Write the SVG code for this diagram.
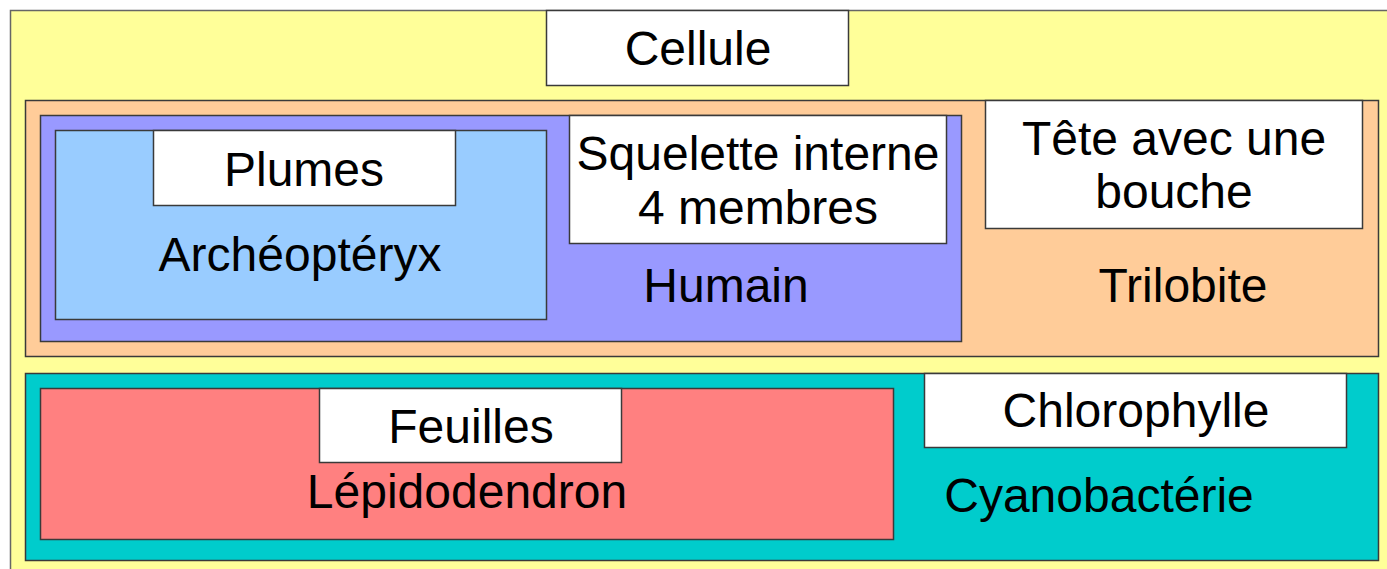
<svg xmlns="http://www.w3.org/2000/svg" width="1387" height="569" viewBox="0 0 1387 569">
<style>
rect{stroke:#3a3a3a;stroke-width:1.5}
.outer{stroke:#666}
text{font-family:"Liberation Sans",Arial,sans-serif;font-size:48px;fill:#000;text-anchor:middle}
.w{fill:#fff}
</style>
<rect width="1387" height="569" fill="#fff" style="stroke:none"/>
<g id="cellule-group">
<rect class="outer" x="10.5" y="10.5" width="1390" height="570" fill="#ffff99"/>
</g>
<g id="cellule">
<rect class="w" x="546.5" y="10.5" width="302" height="75"/>
<text x="698" y="65">Cellule</text>
</g>
<g id="trilobite">
<rect x="25.5" y="100.5" width="1353" height="256" fill="#ffcc99"/>
<text x="1183" y="302">Trilobite</text>
</g>
<g id="tete">
<rect class="w" x="985.5" y="100.5" width="377" height="128"/>
<text x="1174" y="155">Tête avec une</text>
<text x="1174" y="208">bouche</text>
</g>
<g id="humain">
<rect x="40.5" y="115.5" width="921" height="226" fill="#9999ff"/>
<text x="726" y="302">Humain</text>
</g>
<g id="squelette">
<rect class="w" x="569.5" y="115.5" width="377" height="128"/>
<text x="758" y="170">Squelette interne</text>
<text x="758" y="224">4 membres</text>
</g>
<g id="archeopteryx">
<rect x="55.5" y="130.5" width="491" height="189" fill="#99ccff"/>
<text x="300" y="271">Archéoptéryx</text>
</g>
<g id="plumes">
<rect class="w" x="153.5" y="130.5" width="302" height="75"/>
<text x="304" y="186">Plumes</text>
</g>
<g id="cyanobacterie">
<rect x="25.5" y="373.5" width="1353" height="187" fill="#00cccc"/>
<text x="1099" y="512">Cyanobactérie</text>
</g>
<g id="chlorophylle">
<rect class="w" x="924.5" y="373.5" width="422" height="74"/>
<text x="1136" y="427">Chlorophylle</text>
</g>
<g id="lepidodendron">
<rect x="40.5" y="388.5" width="853" height="151" fill="#ff8080"/>
<text x="467" y="508">Lépidodendron</text>
</g>
<g id="feuilles">
<rect class="w" x="319.5" y="388.5" width="302" height="74"/>
<text x="471" y="443">Feuilles</text>
</g>
<g id="connectors"></g>
</svg>
